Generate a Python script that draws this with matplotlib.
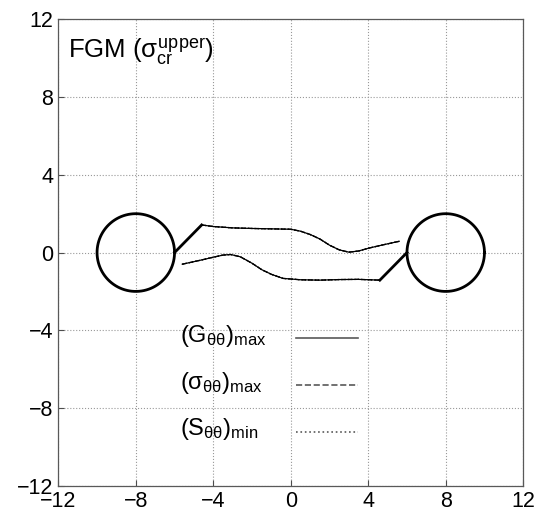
import matplotlib
matplotlib.use("Agg")
import matplotlib.pyplot as plt
import numpy as np

plt.rcParams["font.family"] = ["Liberation Sans", "DejaVu Sans"]
plt.rcParams["mathtext.fontset"] = "custom"
plt.rcParams["mathtext.rm"] = "Liberation Sans"
plt.rcParams["mathtext.it"] = "Liberation Sans"
plt.rcParams["mathtext.bf"] = "Liberation Sans:bold"

# holes: centres and radius
hole_x = [-8, 8]
hole_y = [0, 0]
hole_r = 2

# crack links from hole edge to the curve ends
link_left_x = [-6.0, -4.6]
link_left_y = [0.0, 1.42]
link_right_x = [6.0, 4.6]
link_right_y = [0.0, -1.42]

# upper crack path
upper_x = [-4.6, -4.0, -3.0, -2.0, -1.0, 0.0, 0.5, 1.0, 1.5, 2.0, 2.5, 3.0, 3.5, 4.0, 4.6, 5.1, 5.6]
upper_y = [1.42, 1.34, 1.27, 1.24, 1.22, 1.20, 1.10, 0.93, 0.70, 0.38, 0.14, 0.02, 0.08, 0.22, 0.36, 0.47, 0.58]

# lower crack path
lower_x = [-5.6, -5.1, -4.6, -4.0, -3.5, -3.1, -2.6, -2.0, -1.5, -1.0, -0.4, 0.5, 1.5, 2.5, 3.5, 4.6]
lower_y = [-0.60, -0.49, -0.38, -0.24, -0.13, -0.10, -0.22, -0.55, -0.88, -1.12, -1.33, -1.40, -1.42, -1.39, -1.38, -1.42]

criteria = [r"$(G_{\theta\theta})_{max}$", r"$(\sigma_{\theta\theta})_{max}$", r"$(S_{\theta\theta})_{min}$"]
styles = ["-", "--", ":"]
ticks = np.arange(-12, 13, 4)

fig = plt.figure(figsize=(5.45, 5.17), dpi=100)
ax = fig.add_axes([0.107, 0.0605, 0.853, 0.902])

t = np.linspace(0, 2 * np.pi, 200)
for cx, cy in zip(hole_x, hole_y):
    ax.plot(cx + hole_r * np.cos(t), cy + hole_r * np.sin(t), color="black", lw=2)
ax.plot(link_left_x, link_left_y, color="black", lw=2)
ax.plot(link_right_x, link_right_y, color="black", lw=2)

for ls in styles:
    ax.plot(upper_x, upper_y, color="black", lw=0.9, ls=ls)
    ax.plot(lower_x, lower_y, color="black", lw=0.9, ls=ls)

# hand-placed key, text left aligned like the original
for i, (lab, ls) in enumerate(zip(criteria, styles)):
    yb = 0.308 - i * 0.1
    ax.text(0.262, yb, lab, transform=ax.transAxes, fontsize=17, va="baseline")
    ax.plot([0.511, 0.644], [yb + 0.008, yb + 0.008], transform=ax.transAxes,
            color="0.35", lw=1.2, ls=ls)

ax.text(-11.5, 10.0, r"FGM ($\sigma_{cr}^{upper}$)", fontsize=18.5)

ax.set_xlim(-12, 12)
ax.set_ylim(-12, 12)
ax.set_xticks(ticks)
ax.set_yticks(ticks)
ax.tick_params(direction="in", length=4, labelsize=15.5, color="0.3")
ax.grid(True, ls=":", color="0.6", lw=0.8)
for s in ax.spines.values():
    s.set_color("0.35")
    s.set_linewidth(0.9)

fig.savefig("out.png", dpi=100)
